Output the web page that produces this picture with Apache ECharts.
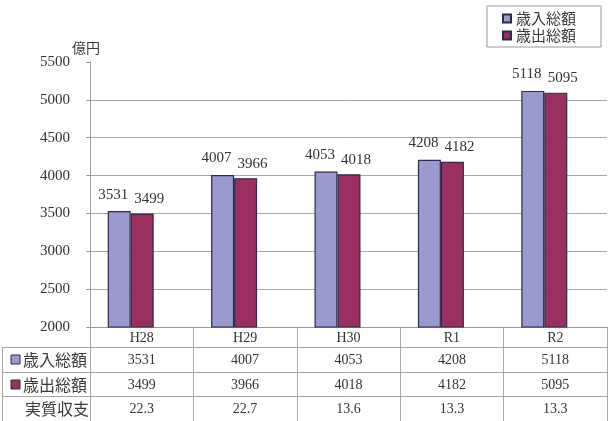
<!DOCTYPE html>
<html>
<head>
<meta charset="utf-8">
<script src="https://cdn.jsdelivr.net/npm/echarts@6/dist/echarts.min.js"></script>
<style>
  html, body { margin: 0; padding: 0; background: #fff; }
  #main { width: 609px; height: 421px; }
</style>
</head>
<body>
<div id="main"></div>
<script>
// 年度
var categories = ['H28', 'H29', 'H30', 'R1', 'R2'];
// 歳入総額（億円）
var revenue = [3531, 4007, 4053, 4208, 5118];
// 歳出総額（億円）
var expenditure = [3499, 3966, 4018, 4182, 5095];
// 実質収支（億円）
var realBalance = [22.3, 22.7, 13.6, 13.3, 13.3];
// y軸
var yMin = 2000, yMax = 5500, yStep = 500;

var serif = "'Liberation Serif', 'Noto Sans CJK JP', serif";
var cjk = "'Noto Sans CJK JP', sans-serif";
var lineColor = '#a8a8a8';
var textColor = '#333';
var blue = '#9a9ad0';
var red = '#9b2f60';
var border = '#2b2b4a';

var myChart = echarts.init(document.getElementById('main'));

// 表の行（x軸を流用）
function rowAxis(data, offset) {
  return {
    gridIndex: 0,
    type: 'category',
    position: 'bottom',
    offset: offset,
    data: data,
    axisLine: { show: true, lineStyle: { color: lineColor } },
    axisTick: { show: false },
    axisLabel: { interval: 0, margin: 6, fontSize: 14, color: textColor, fontFamily: serif }
  };
}

// 左の見出し列
function rowHead(y, text, color) {
  var items = [];
  if (color) {
    items.push({
      type: 'rect',
      shape: { x: 11, y: y - 4.5, width: 9, height: 9 },
      style: { fill: color, stroke: border, lineWidth: 1 }
    });
  }
  items.push({
    type: 'text',
    x: color ? 23 : 25,
    y: y,
    style: { text: text, font: '16px ' + cjk, fill: '#3a3a3a', verticalAlign: 'middle' }
  });
  return items;
}

function hline(y) {
  return { type: 'line', shape: { x1: 2, y1: y, x2: 90, y2: y }, style: { stroke: lineColor, lineWidth: 1 } };
}

var graphic = [
  hline(347.5), hline(372.5), hline(396.5),
  { type: 'line', shape: { x1: 2.5, y1: 347, x2: 2.5, y2: 421 }, style: { stroke: lineColor, lineWidth: 1 } }
].concat(rowHead(359.5, '歳入総額', blue))
 .concat(rowHead(384.5, '歳出総額', red))
 .concat(rowHead(408.5, '実質収支', null));

var option = {
  animation: false,
  backgroundColor: '#fff',
  textStyle: { fontFamily: serif },
  legend: {
    data: ['歳入総額', '歳出総額'],
    orient: 'vertical',
    right: 8,
    top: 6,
    padding: [5, 25, 4, 15],
    icon: 'rect',
    itemWidth: 8,
    itemHeight: 8,
    itemGap: 2,
    borderColor: '#999',
    borderWidth: 1,
    textStyle: { fontSize: 15, color: '#3a3a3a', fontFamily: cjk }
  },
  grid: [
    { left: 90, right: 2, top: 62, bottom: 94 }, // 軸と表
    { left: 79, right: 13, top: 62, bottom: 94 } // 棒（奥行き分左へずれる）
  ],
  xAxis: [
    {
      gridIndex: 0,
      type: 'category',
      position: 'bottom',
      data: categories,
      axisLine: { show: true, lineStyle: { color: '#999' } },
      axisTick: { show: true, interval: 0, length: 94, lineStyle: { color: lineColor } },
      axisLabel: { interval: 0, margin: 4, fontSize: 14, color: textColor, fontFamily: serif }
    },
    rowAxis(revenue.map(String), 20),
    rowAxis(expenditure.map(String), 45),
    rowAxis(realBalance.map(function(v) { return v.toFixed(1); }), 69),
    { gridIndex: 1, type: 'category', data: categories, show: false }
  ],
  yAxis: [
    {
      gridIndex: 0,
      type: 'value',
      min: yMin,
      max: yMax,
      interval: yStep,
      name: '億円',
      nameLocation: 'end',
      nameGap: 3,
      nameTextStyle: { fontSize: 14, color: '#3a3a3a', fontFamily: cjk, padding: [0, 8, 0, 0] },
      axisLine: { show: true, lineStyle: { color: '#999' } },
      axisTick: { show: true, length: 4, lineStyle: { color: '#999' } },
      axisLabel: {
        margin: 20, fontSize: 15, color: textColor, fontFamily: serif,
        formatter: function(v) { return String(v); }
      },
      splitLine: { show: true, showMaxLine: false, lineStyle: { color: lineColor } }
    },
    { gridIndex: 1, type: 'value', min: yMin, max: yMax, interval: yStep, show: false, splitLine: { show: false } }
  ],
  series: [
    {
      name: '歳入総額',
      type: 'bar',
      xAxisIndex: 4,
      yAxisIndex: 1,
      barWidth: 23,
      barGap: 0,
      data: revenue,
      itemStyle: { color: blue, borderColor: border, borderWidth: 1.2 },
      label: { show: true, position: 'top', distance: 9, offset: [-6, 0], fontSize: 15, color: textColor, fontFamily: serif }
    },
    {
      name: '歳出総額',
      type: 'bar',
      xAxisIndex: 4,
      yAxisIndex: 1,
      barWidth: 23,
      barGap: 0,
      data: expenditure,
      itemStyle: { color: red, borderColor: border, borderWidth: 1.2 },
      label: { show: true, position: 'top', distance: 7, offset: [7, 0], fontSize: 15, color: textColor, fontFamily: serif }
    }
  ],
  graphic: graphic
};
myChart.setOption(option);
</script>
</body>
</html>
